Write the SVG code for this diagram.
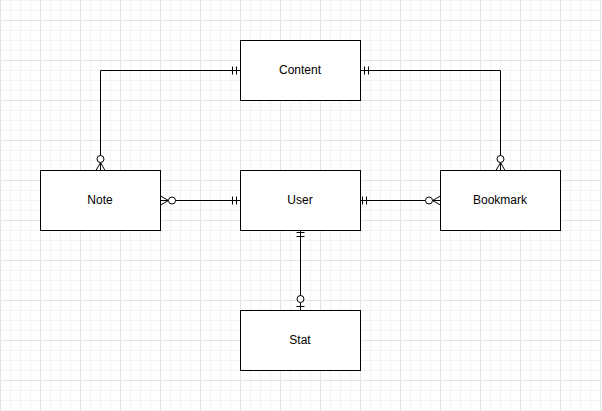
<svg xmlns="http://www.w3.org/2000/svg" width="602" height="411" viewBox="0 0 602 411">
  <defs>
    <pattern id="minor" width="10" height="10" patternUnits="userSpaceOnUse">
      <rect width="10" height="10" fill="#ffffff"/>
      <rect x="0" y="0" width="10" height="1" fill="#f3f3f3"/>
      <rect x="0" y="0" width="1" height="10" fill="#f3f3f3"/>
    </pattern>
    <pattern id="major" x="0" y="20" width="40" height="40" patternUnits="userSpaceOnUse">
      <rect x="0" y="0" width="40" height="1" fill="#e4e4e4"/>
      <rect x="0" y="0" width="1" height="40" fill="#e4e4e4"/>
    </pattern>
    <style>
      .box { fill: #ffffff; stroke: #000000; stroke-width: 1; }
      .lbl { font-family: "Liberation Sans", Arial, Helvetica, sans-serif; font-size: 12px; fill: #000000; text-anchor: middle; }
      .edge { fill: none; stroke: #000000; stroke-width: 1; }
      .circ { fill: #ffffff; stroke: #000000; stroke-width: 1; }
    </style>
  </defs>
  <rect width="602" height="411" fill="url(#minor)"/>
  <rect width="602" height="411" fill="url(#major)"/>

  <g id="connectors" transform="translate(0.5,0.5)">
    <!-- Note to Content -->
    <g id="edge-note-content">
      <path class="edge" d="M100,170 V70 H240"/>
      <path class="edge" d="M232,66 V74 M236,66 V74"/>
      <path class="edge" d="M95.5,170 L100,162 L104.5,170"/>
      <circle class="circ" cx="100" cy="158.5" r="3.5"/>
    </g>
    <!-- Content to Bookmark -->
    <g id="edge-content-bookmark">
      <path class="edge" d="M360,70 H500 V170"/>
      <path class="edge" d="M364,66 V74 M368,66 V74"/>
      <path class="edge" d="M495.5,170 L500,162 L504.5,170"/>
      <circle class="circ" cx="500" cy="158.5" r="3.5"/>
    </g>
    <!-- Note to User -->
    <g id="edge-note-user">
      <path class="edge" d="M160,200 H240"/>
      <path class="edge" d="M232,196 V204 M236,196 V204"/>
      <path class="edge" d="M160,195.5 L168,200 L160,204.5"/>
      <circle class="circ" cx="171.5" cy="200" r="3.5"/>
    </g>
    <!-- User to Bookmark -->
    <g id="edge-user-bookmark">
      <path class="edge" d="M360,200 H440"/>
      <path class="edge" d="M362,196 V204 M366,196 V204"/>
      <path class="edge" d="M440,195.5 L432,200 L440,204.5"/>
      <circle class="circ" cx="428.5" cy="200" r="3.5"/>
    </g>
    <!-- User to Stat -->
    <g id="edge-user-stat">
      <path class="edge" d="M300,230 V310"/>
      <path class="edge" d="M296,232 H304 M296,236 H304"/>
      <path class="edge" d="M296,306 H304"/>
      <circle class="circ" cx="300" cy="298.5" r="3.5"/>
    </g>
  </g>

  <g id="node-content" transform="translate(0.5,0.5)">
    <rect class="box" x="240" y="40" width="120" height="60"/>
    <text class="lbl" x="299.5" y="73.5">Content</text>
  </g>
  <g id="node-note" transform="translate(0.5,0.5)">
    <rect class="box" x="40" y="170" width="120" height="60"/>
    <text class="lbl" x="99.5" y="203.5">Note</text>
  </g>
  <g id="node-user" transform="translate(0.5,0.5)">
    <rect class="box" x="240" y="170" width="120" height="60"/>
    <text class="lbl" x="299.5" y="203.5">User</text>
  </g>
  <g id="node-bookmark" transform="translate(0.5,0.5)">
    <rect class="box" x="440" y="170" width="120" height="60"/>
    <text class="lbl" x="499.5" y="203.5">Bookmark</text>
  </g>
  <g id="node-stat" transform="translate(0.5,0.5)">
    <rect class="box" x="240" y="310" width="120" height="60"/>
    <text class="lbl" x="299.5" y="343.5">Stat</text>
  </g>
</svg>
